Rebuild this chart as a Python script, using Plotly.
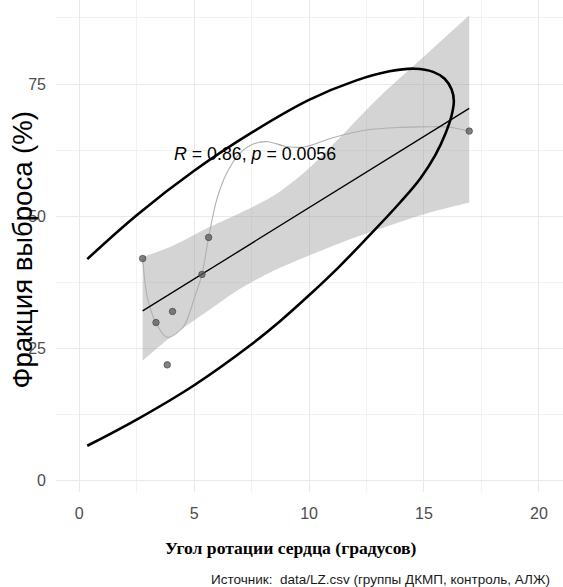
import plotly.graph_objects as go

# ---- data ----
pts_x = [2.76, 3.34, 3.83, 4.06, 5.34, 5.63, 16.97]
pts_y = [42.0, 29.9, 21.9, 32.0, 39.0, 46.0, 66.1]

fit_x = [2.76, 16.97]
fit_y = [32.1, 70.4]

band_x = [2.76, 4.0, 5.5, 7.0, 8.5, 10.0, 11.5, 13.0, 15.0, 16.97]
band_hi = [42.3, 44.3, 47.6, 50.6, 54.0, 59.1, 65.6, 72.3, 80.2, 88.0]
band_lo = [22.7, 27.2, 31.8, 36.3, 39.8, 42.6, 45.2, 47.5, 50.4, 52.6]

loess_x = [2.76, 2.96, 3.34, 3.83, 4.53, 5.03, 5.34, 5.63, 5.98, 6.41, 6.99,
           7.6, 8.2, 9.0, 9.8, 11.0, 12.5, 14.0, 15.0, 16.0, 16.97]
loess_y = [42.0, 34.8, 29.8, 27.1, 29.1, 34.8, 39.0, 46.0, 53.1, 58.1, 61.9,
           63.7, 64.1, 63.2, 63.1, 64.8, 66.3, 66.8, 66.9, 66.9, 66.1]

ell_x = [0.35, 2.5, 5.0, 7.5, 10.0, 12.0, 13.5, 14.6, 15.4, 15.9, 16.2, 16.3,
         16.2, 15.95, 15.5, 14.85, 13.96, 12.5, 11.25, 10.0, 8.75, 7.5, 5.0, 2.5, 0.35]
ell_y = [41.9, 50.2, 58.6, 65.8, 72.0, 75.6, 77.4, 77.9, 77.3, 76.0, 74.0, 71.8,
         69.0, 65.8, 61.6, 57.2, 52.6, 45.8, 40.2, 35.05, 30.2, 25.8, 18.05, 11.55, 6.6]

x_ticks = [0, 5, 10, 15, 20]
y_ticks = [0, 25, 50, 75]

stat_label = "<i>R</i> = 0.86, <i>p</i> = 0.0056"
x_title = "Угол ротации сердца (градусов)"
y_title = "Фракция выброса (%)"
caption = "Источник:  data/LZ.csv (группы ДКМП, контроль, АЛЖ)"

SANS = "Liberation Sans, Arial, sans-serif"
SERIF = "Liberation Serif, Times New Roman, serif"

fig = go.Figure()

# confidence band (lower edge, then upper edge filled down to it)
fig.add_trace(go.Scatter(x=band_x, y=band_lo, mode="lines",
                         line=dict(width=0, shape="spline", smoothing=0.8),
                         hoverinfo="skip", showlegend=False))
fig.add_trace(go.Scatter(x=band_x, y=band_hi, mode="lines", fill="tonexty",
                         fillcolor="rgba(153,153,153,0.42)",
                         line=dict(width=0, shape="spline", smoothing=0.8),
                         hoverinfo="skip", showlegend=False))
# loess
fig.add_trace(go.Scatter(x=loess_x, y=loess_y, mode="lines",
                         line=dict(color="#b0b0b0", width=1.1, shape="spline", smoothing=0.9),
                         showlegend=False))
# linear fit
fig.add_trace(go.Scatter(x=fit_x, y=fit_y, mode="lines",
                         line=dict(color="black", width=1.3), showlegend=False))
# points
fig.add_trace(go.Scatter(x=pts_x, y=pts_y, mode="markers",
                         marker=dict(size=6.5, color="rgba(90,90,90,0.75)",
                                     line=dict(color="rgba(60,60,60,0.8)", width=0.8)),
                         showlegend=False))
# ellipse
fig.add_trace(go.Scatter(x=ell_x, y=ell_y, mode="lines",
                         line=dict(color="black", width=2.6, shape="spline", smoothing=1.1),
                         showlegend=False))

fig.add_annotation(x=4.03, y=61.8, xref="x", yref="y", text=stat_label, showarrow=False,
                   xanchor="left", yanchor="middle",
                   font=dict(family=SANS, size=17.8, color="black"))

fig.add_annotation(x=(291 - 56) / 507, y=(492 - 548) / 492, xref="paper", yref="paper",
                   text="<b>" + x_title + "</b>", showarrow=False,
                   xanchor="center", yanchor="middle",
                   font=dict(family=SERIF, size=17.6, color="black"))
fig.add_annotation(x=(22.5 - 56) / 507, y=(492 - 250) / 492, xref="paper", yref="paper",
                   text=y_title, showarrow=False, textangle=-90,
                   xanchor="center", yanchor="middle",
                   font=dict(family=SANS, size=27.5, color="black"))
fig.add_annotation(x=(552 - 56) / 507, y=(492 - 579) / 492, xref="paper", yref="paper",
                   text=caption, showarrow=False, xanchor="right", yanchor="middle",
                   font=dict(family=SANS, size=13.5, color="#1a1a1a"))

grid = "#e9e9e9"
fig.update_layout(
    template="none",
    width=563, height=587,
    margin=dict(l=56, r=0, t=0, b=95, autoexpand=False),
    plot_bgcolor="white", paper_bgcolor="white",
    xaxis=dict(range=[-1.01, 21.05], tickvals=x_ticks, ticktext=[str(v) for v in x_ticks],
               showgrid=True, gridcolor=grid, gridwidth=1.2, zeroline=False, showline=False,
               ticks="", ticklabelstandoff=10, automargin=False,
               tickfont=dict(family=SANS, size=16, color="#4d4d4d"),
               minor=dict(dtick=2.5, tick0=0, showgrid=True, gridcolor="#f2f2f2", gridwidth=1)),
    yaxis=dict(range=[-2.14, 90.89], tickvals=y_ticks, ticktext=[str(v) for v in y_ticks],
               showgrid=True, gridcolor=grid, gridwidth=1.2, zeroline=False, showline=False,
               ticks="", ticklabelstandoff=9, automargin=False,
               tickfont=dict(family=SANS, size=16, color="#4d4d4d"),
               minor=dict(dtick=12.5, tick0=0, showgrid=True, gridcolor="#f2f2f2", gridwidth=1)),
)

fig.write_html("out.html", config={"displayModeBar": False},
               post_script="document.body.style.margin='0';document.body.style.overflow='hidden';")
